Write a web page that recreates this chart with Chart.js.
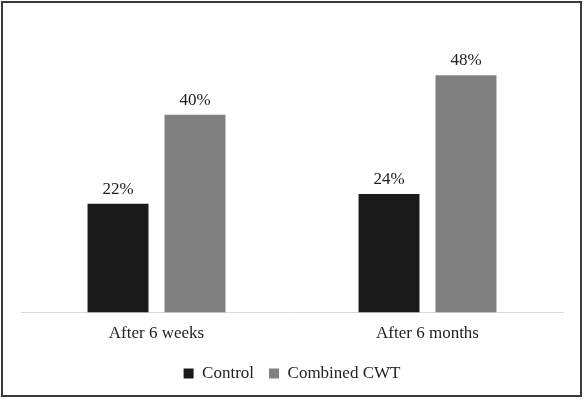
<!DOCTYPE html>
<html>
<head>
<meta charset="utf-8">
<script src="https://cdn.jsdelivr.net/npm/chart.js@4"></script>
<style>
  html, body { margin: 0; padding: 0; background: #fff; }
  .frame {
    position: absolute; left: 1px; top: 1px;
    width: 577px; height: 392px;
    border: 2px solid #3a3a3a;
  }
  canvas { display: block; }
</style>
</head>
<body>
<div class="frame"><canvas id="myChart" width="577" height="392"></canvas></div>
<script>
const categories = ['After 6 weeks', 'After 6 months'];
const controlValues = [22, 24];
const cwtValues = [40, 48];

// draws the % above each bar
const barLabels = {
  id: 'barLabels',
  afterDatasetsDraw(chart) {
    const c = chart.ctx;
    c.save();
    c.font = '17px "Liberation Serif"';
    c.fillStyle = '#222';
    c.textAlign = 'center';
    c.textBaseline = 'bottom';
    chart.data.datasets.forEach((ds, i) => {
      chart.getDatasetMeta(i).data.forEach((bar, j) => {
        c.fillText(ds.data[j] + '%', bar.x, bar.y - 6);
      });
    });
    c.restore();
  }
};

const ctx = document.getElementById('myChart');

new Chart(ctx, {
  type: 'bar',
  data: {
    labels: categories,
    datasets: [{
      label: 'Control',
      data: controlValues,
      backgroundColor: '#1a1a1a',
      categoryPercentage: 0.568,
      barPercentage: 0.792
    }, {
      label: 'Combined CWT',
      data: cwtValues,
      backgroundColor: '#808080',
      categoryPercentage: 0.568,
      barPercentage: 0.792
    }]
  },
  options: {
    responsive: false,
    animation: false,
    layout: {
      padding: { top: 13, left: 18, right: 17, bottom: 3 }
    },
    scales: {
      x: {
        grid: { display: false },
        border: { display: true, color: '#d9d9d9', width: 1 },
        ticks: {
          color: '#222',
          font: { family: 'Liberation Serif', size: 17 },
          padding: 3
        },
        afterFit(scale) {
          scale.height += 3; // a bit more room above the legend
        }
      },
      y: {
        display: false,
        min: 0,
        max: 60
      }
    },
    plugins: {
      legend: {
        position: 'bottom',
        labels: {
          boxWidth: 10,
          boxHeight: 10,
          padding: 15,
          color: '#222',
          font: { family: 'Liberation Serif', size: 17 }
        }
      },
      tooltip: { enabled: false }
    }
  },
  plugins: [barLabels]
});
</script>
</body>
</html>
